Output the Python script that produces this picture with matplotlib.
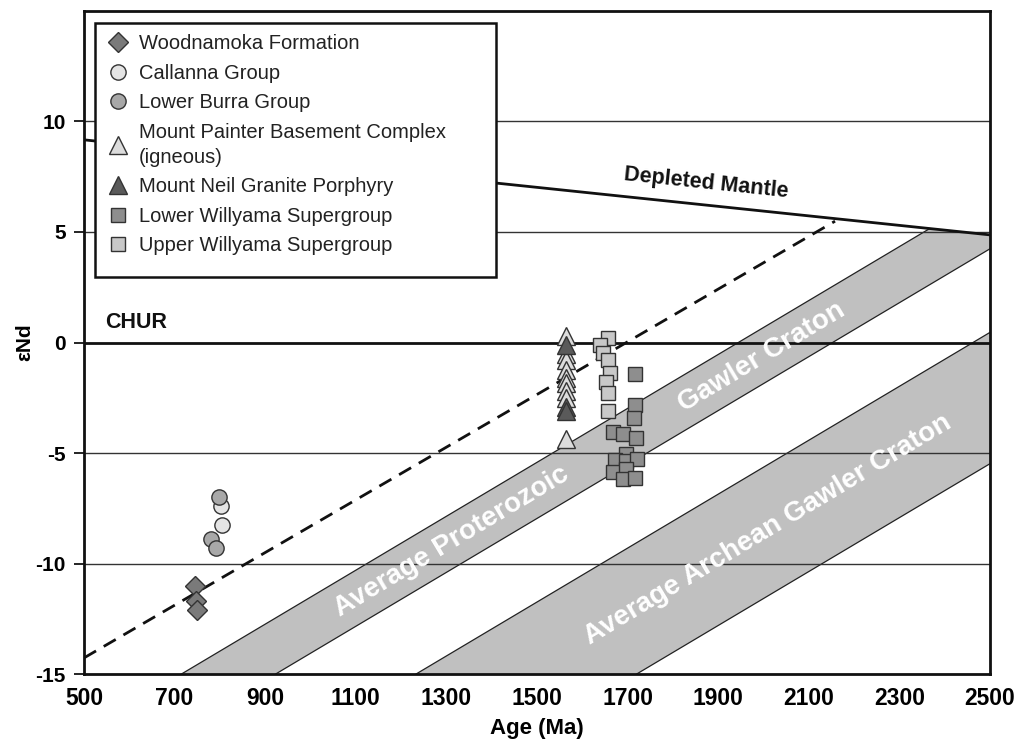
import matplotlib
matplotlib.use("Agg")
import matplotlib.pyplot as plt
from matplotlib.patches import Rectangle, Polygon
import numpy as np

plt.rcParams['font.family'] = ['Liberation Sans', 'DejaVu Sans']
plt.rcParams['axes.unicode_minus'] = False

# Data
woodnamoka_age = [745, 747, 750]
woodnamoka_end = [-11.0, -11.7, -12.1]
callanna_age = [803, 805]
callanna_end = [-7.4, -8.25]
lower_burra_age = [799, 781, 792]
lower_burra_end = [-7.0, -8.9, -9.3]
painter_age = [1565, 1565, 1565, 1565, 1565, 1565, 1565, 1565, 1565]
painter_end = [0.3, -0.5, -0.8, -1.25, -1.6, -1.85, -2.2, -2.5, -4.35]
neil_age = [1565, 1565, 1565]
neil_end = [-0.1, -2.9, -3.1]
upper_willyama_age = [1657, 1638, 1646, 1657, 1661, 1652, 1657, 1657]
upper_willyama_end = [0.2, -0.12, -0.47, -0.8, -1.37, -1.77, -2.27, -3.09]
lower_willyama_age = [1716, 1716, 1714, 1668, 1690, 1719, 1696, 1672, 1697, 1720, 1668, 1696, 1690, 1716]
lower_willyama_end = [-1.44, -2.84, -3.41, -4.04, -4.16, -4.34, -5.05, -5.3, -5.35, -5.27, -5.86, -5.74, -6.17, -6.13]

# reference lines (age, eNd end points)
dm_age = [500, 2500]
dm_end = [9.17, 4.87]
dashed_age = [500, 2158]
dashed_end = [-14.27, 5.49]
# crustal evolution bands: start age at eNd=-15, slope per Ma
band_slope = 0.0122
proterozoic_start = [715, 923]
archean_start = [1233, 1720]

xticks = [500, 700, 900, 1100, 1300, 1500, 1700, 1900, 2100, 2300, 2500]
yticks = [-15, -10, -5, 0, 5, 10]

fig = plt.figure(figsize=(10.21, 7.42), dpi=100)
ax = fig.add_axes([0.0823, 0.0916, 0.8873, 0.8936])
ax.set_xlim(500, 2500)
ax.set_ylim(-15, 15)


def dm(x):
    return dm_end[0] + (dm_end[1] - dm_end[0]) * (x - dm_age[0]) / (dm_age[1] - dm_age[0])


band_fill = '#c0c0c0'
# Proterozoic band, top clipped by depleted mantle
a0, a1 = proterozoic_start
xi = np.linspace(500, 2500, 4001)
up = -15 + band_slope * (xi - a0)
cross = xi[np.argmin(np.abs(up - dm(xi)))]
poly_p = [(a0, -15), (cross, dm(cross)), (2500, dm(2500)),
          (2500, -15 + band_slope * (2500 - a1)), (a1, -15)]
ax.add_patch(Polygon(poly_p, closed=True, facecolor=band_fill, edgecolor='none', zorder=1))
ax.plot([a0, cross], [-15, dm(cross)], color='#222222', lw=0.9, zorder=1.2)
ax.plot([a1, 2500], [-15, -15 + band_slope * (2500 - a1)], color='#222222', lw=0.9, zorder=1.2)

b0, b1 = archean_start
poly_a = [(b0, -15), (2500, -15 + band_slope * (2500 - b0)),
          (2500, -15 + band_slope * (2500 - b1)), (b1, -15)]
ax.add_patch(Polygon(poly_a, closed=True, facecolor=band_fill, edgecolor='none', zorder=1))
ax.plot([b0, 2500], [-15, -15 + band_slope * (2500 - b0)], color='#222222', lw=0.9, zorder=1.2)
ax.plot([b1, 2500], [-15, -15 + band_slope * (2500 - b1)], color='#222222', lw=0.9, zorder=1.2)

# horizontal grid lines
for yv in [-10, -5, 5, 10]:
    ax.axhline(yv, color='#333333', lw=1.0, zorder=1.5)
ax.axhline(0, color='#111111', lw=2.0, zorder=1.6)

# depleted mantle and dashed line
ax.plot(dm_age, dm_end, color='#111111', lw=2.0, zorder=2)
ax.plot(dashed_age, dashed_end, color='#111111', lw=2.0, ls=(0, (5, 3.2)), zorder=2)

# band labels
ang = 31
ax.text(1312, -15 + band_slope * (1312 - 819), 'Average Proterozoic', color='white',
        fontsize=20, fontweight='bold', rotation=ang, rotation_mode='anchor',
        ha='center', va='center', zorder=3)
ax.text(1995, -15 + band_slope * (1995 - 819), 'Gawler Craton', color='white',
        fontsize=20, fontweight='bold', rotation=ang, rotation_mode='anchor',
        ha='center', va='center', zorder=3)
ax.text(2010, -15 + band_slope * (2010 - 1476), 'Average Archean Gawler Craton', color='white',
        fontsize=20, fontweight='bold', rotation=ang, rotation_mode='anchor',
        ha='center', va='center', zorder=3)
ax.text(1873, 7.23, 'Depleted Mantle', fontsize=15.5, fontweight='bold', color='#111111',
        rotation=-6, rotation_mode='anchor', ha='center', va='center', zorder=3)
ax.text(546, 0.9, 'CHUR', fontsize=15.5, fontweight='bold', color='#111111',
        ha='left', va='center', zorder=3)

# data
ec = '#333333'
ax.plot(woodnamoka_age, woodnamoka_end, 'D', ms=10, mfc='#7a7a7a', mec=ec, mew=1,
        ls='none', zorder=4, label='Woodnamoka Formation')
ax.plot(callanna_age, callanna_end, 'o', ms=11, mfc='#e4e4e4', mec=ec, mew=1,
        ls='none', zorder=4, label='Callanna Group')
ax.plot(lower_burra_age, lower_burra_end, 'o', ms=11, mfc='#a8a8a8', mec=ec, mew=1,
        ls='none', zorder=4, label='Lower Burra Group')
ax.plot(painter_age, painter_end, '^', ms=13, mfc='#dcdcdc', mec=ec, mew=1,
        ls='none', zorder=4, label='Mount Painter Basement Complex\n(igneous)')
ax.plot(neil_age, neil_end, '^', ms=13, mfc='#5a5a5a', mec=ec, mew=1,
        ls='none', zorder=4, label='Mount Neil Granite Porphyry')
ax.plot(lower_willyama_age, lower_willyama_end, 's', ms=10, mfc='#8e8e8e', mec=ec, mew=1,
        ls='none', zorder=4, label='Lower Willyama Supergroup')
ax.plot(upper_willyama_age, upper_willyama_end, 's', ms=10, mfc='#c8c8c8', mec=ec, mew=1,
        ls='none', zorder=4, label='Upper Willyama Supergroup')

# legend box
ax.add_patch(Rectangle((0.012, 0.599), 0.4426, 0.383, transform=ax.transAxes,
                       facecolor='white', edgecolor='#111111', lw=1.8, zorder=5))
leg = ax.legend(loc='upper left', bbox_to_anchor=(0.014, 0.977), frameon=False,
                fontsize=14.5, labelspacing=0.52, handletextpad=0.4, handlelength=1.3,
                borderaxespad=0)
leg.set_zorder(6)
for t in leg.get_texts():
    t.set_color('#222222')
    if '\n' in t.get_text():
        t.set_linespacing(1.4)

# axes styling
for s in ax.spines.values():
    s.set_linewidth(2)
    s.set_color('#111111')
    s.set_zorder(7)
ax.set_xticks(xticks)
ax.set_yticks(yticks)
ax.tick_params(axis='x', length=0, pad=9)
ax.tick_params(axis='y', length=7, width=1.2, pad=6)
for lab in ax.get_xticklabels():
    lab.set_fontweight('bold')
    lab.set_fontsize(16.5)
for lab in ax.get_yticklabels():
    lab.set_fontweight('bold')
    lab.set_fontsize(15)
ax.set_xlabel('Age (Ma)', fontweight='bold', fontsize=16, labelpad=6)
ax.set_ylabel('εNd', fontweight='bold', fontsize=15)
ax.yaxis.set_label_coords(-0.055, 0.5)

fig.savefig('out.png', dpi=100)
